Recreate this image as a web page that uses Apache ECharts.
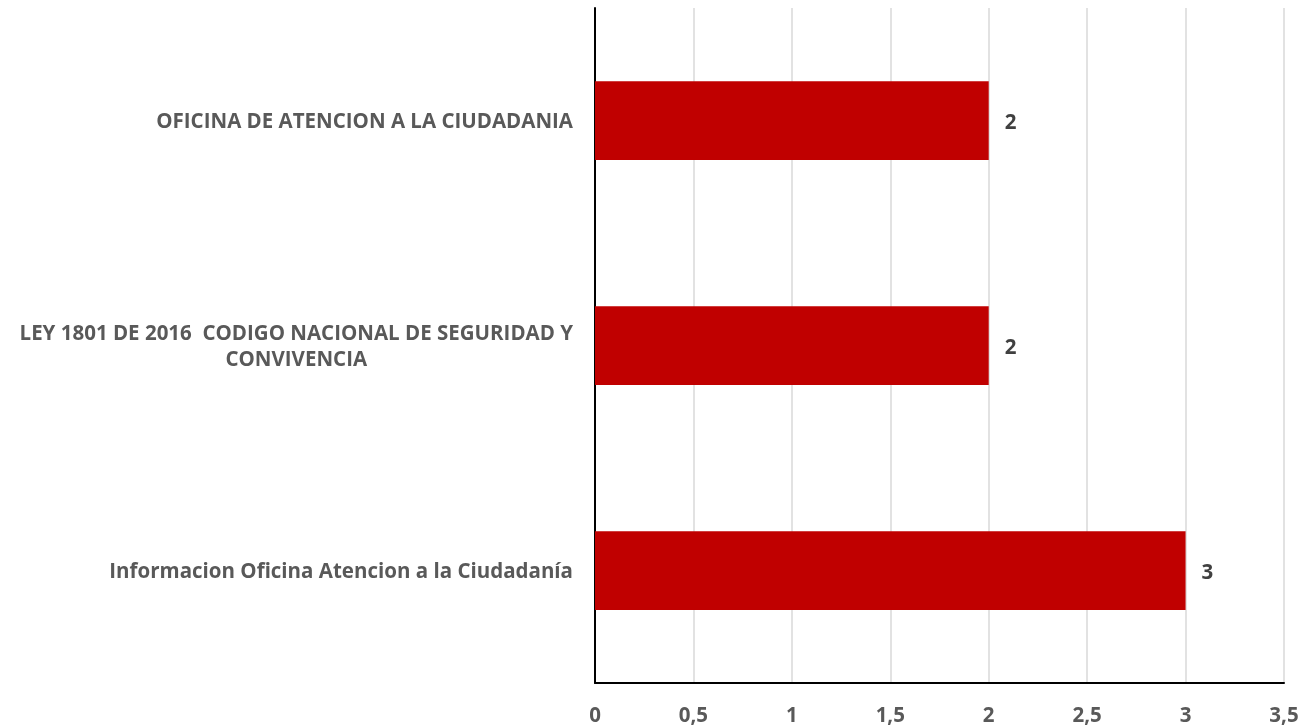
<!DOCTYPE html>
<html><head><meta charset="utf-8">
<script src="https://cdn.jsdelivr.net/npm/echarts@6/dist/echarts.min.js"></script>
<style>html,body{margin:0;padding:0;background:#fff}#c{width:1307px;height:726px}</style>
</head><body><div id="c"></div>
<script>
var categories = ['Informacion Oficina Atencion a la Ciudadanía', 'LEY 1801 DE 2016  CODIGO NACIONAL DE SEGURIDAD Y\nCONVIVENCIA', 'OFICINA DE ATENCION A LA CIUDADANIA'];
var values = [3, 2, 2];
var FONT = 'Open Sans';
var FS = 20.5;
var chart = echarts.init(document.getElementById('c'));
chart.setOption({
  animation: false,
  grid: {left: 595, right: 23, top: 8, bottom: 43, containLabel: false, outerBoundsMode: 'none'},
  xAxis: {
    type: 'value', min: 0, max: 3.5, interval: 0.5,
    axisLine: {show: true, lineStyle: {color: '#000', width: 2}},
    axisTick: {show: false},
    splitLine: {show: true, lineStyle: {color: '#d9d9d9', width: 1.5}},
    axisLabel: {color: '#595959', fontFamily: FONT, fontWeight: 'bold', fontSize: FS, margin: 23,
      formatter: function (v) { return String(v).replace('.', ','); }}
  },
  yAxis: {
    type: 'category', data: categories,
    axisLine: {show: true, lineStyle: {color: '#000', width: 2}},
    axisTick: {show: false},
    axisLabel: {color: '#595959', fontFamily: FONT, fontWeight: 'bold', fontSize: FS, margin: 22,
      formatter: function (v) { return v.split('\n').map(function (s) { return '{a|' + s + '}'; }).join('\n'); },
      rich: {a: {align: 'center', color: '#595959', fontFamily: FONT, fontWeight: 'bold', fontSize: FS, lineHeight: 26, padding: [3, 0, 0, 0]}}
    }
  },
  series: [{
    type: 'bar', data: values, barWidth: '35%',
    itemStyle: {color: '#c00000'},
    label: {show: true, position: 'right', distance: 16, offset: [0, 3], color: '#404040', fontFamily: FONT, fontWeight: 'bold', fontSize: FS}
  }]
});
</script></body></html>
